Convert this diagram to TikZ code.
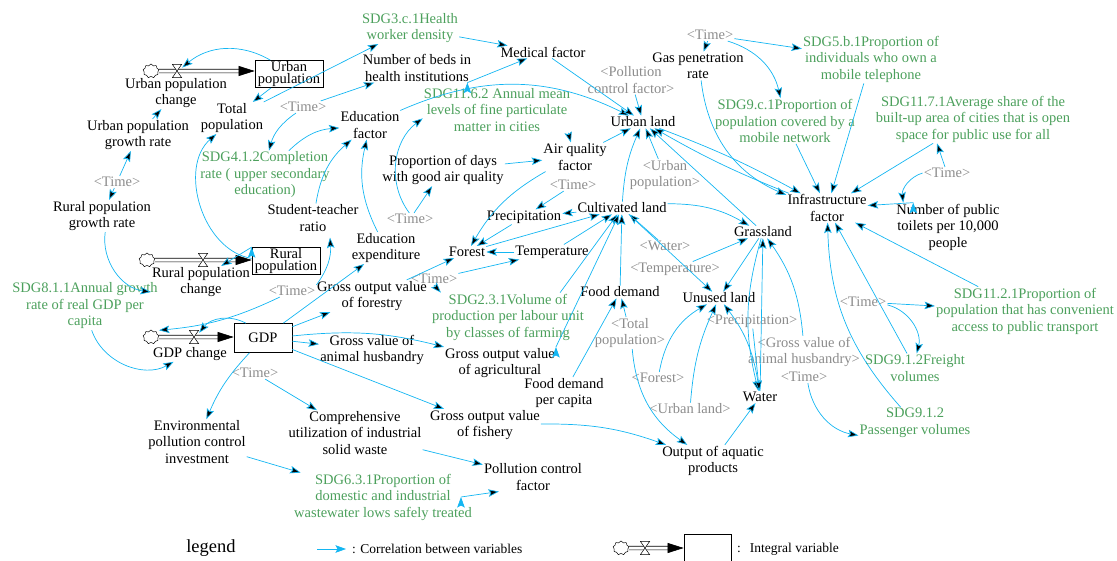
\documentclass[tikz,border=0pt]{standalone}
\usepackage{fontspec}
\setmainfont{Liberation Serif}
\usetikzlibrary{arrows.meta,shapes.symbols}
\definecolor{linkblue}{RGB}{20,182,242}
\definecolor{sdggreen}{RGB}{76,160,92}
\definecolor{shadowgray}{RGB}{140,140,140}
\newcommand{\varfont}{\fontsize{14.5}{16.5}\selectfont}
\newcommand{\stockfont}{\fontsize{14.5}{12.5}\selectfont}
\newcommand{\legfont}{\fontsize{13.5}{15}\selectfont}

\begin{document}
\begin{tikzpicture}[x=1pt, y=-1pt,
    var/.style={align=center, inner sep=1pt, font=\varfont},
    sdg/.style={var, text=sdggreen},
    shadowvar/.style={var, text=shadowgray},
    stock/.style={draw, line width=0.7pt, align=center, inner sep=0pt, font=\stockfont,
                  minimum width=68pt, minimum height=27pt},
    source/.style={cloud, cloud puffs=9, cloud ignores aspect, draw, line width=0.5pt,
                   inner sep=0pt, minimum width=16pt, minimum height=14pt},
    valve/.style={inner sep=0pt, minimum width=10pt, minimum height=14pt,
                  path picture={\draw[fill=white, line width=0.5pt]
                    ([shift={(0.3pt,-0.3pt)}]path picture bounding box.north west) --
                    ([shift={(-0.3pt,-0.3pt)}]path picture bounding box.north east) --
                    ([shift={(0.3pt,0.3pt)}]path picture bounding box.south west) --
                    ([shift={(-0.3pt,0.3pt)}]path picture bounding box.south east) -- cycle;}},
    pipe/.style={double, double distance=3pt, line width=0.6pt},
    inflow/.style={line width=0.6pt, -{Triangle[length=16pt,width=10pt]}},
    link/.style={draw=linkblue, line width=0.7pt, -{Stealth[length=10.5pt,width=7.5pt,inset=2pt]}}]
  \useasboundingbox (0,0) rectangle (1117,560);

  \node[stock] (urbpop) at (289,74) {Urban\\population};
  \node[stock] (ruralpop) at (286,261) {Rural\\population};
  \node[stock, minimum width=58pt, minimum height=29pt] (gdp) at (263,338) {GDP};

  \node[source] (urbcloud) at (151,71) {};
  \coordinate (urbin) at (urbpop.west |- urbcloud);
  \draw[pipe] (urbcloud.east) -- ([xshift=-12pt]urbin);
  \draw[inflow] ([xshift=-16pt]urbin) -- (urbin);
  \node[valve] (urbvalve) at (177,71) {};

  \node[source] (rurcloud) at (147,260) {};
  \coordinate (rurin) at (ruralpop.west |- rurcloud);
  \draw[pipe] (rurcloud.east) -- ([xshift=-12pt]rurin);
  \draw[inflow] ([xshift=-16pt]rurin) -- (rurin);
  \node[valve] (rurvalve) at (203,260) {};

  \node[source] (gdpcloud) at (151,337) {};
  \coordinate (gdpin) at (gdp.west |- gdpcloud);
  \draw[pipe] (gdpcloud.east) -- ([xshift=-12pt]gdpin);
  \draw[inflow] ([xshift=-16pt]gdpin) -- (gdpin);
  \node[valve] (gdpvalve) at (194,337) {};

  \node[var] (urbchg) at (176,93) {Urban population\\change};
  \node[var] (totpop) at (232,118) {Total\\population};
  \node[var] (urbrate) at (138,135) {Urban population\\growth rate};
  \node[shadowvar] (time1) at (117,182) {<Time>};
  \node[var] (rurrate) at (102,216) {Rural population\\growth rate};
  \node[var] (rurchg) at (201,282) {Rural population\\change};
  \node[sdg] (edu41) at (265,175) {SDG4.1.2Completion\\rate ( upper secondary\\education)};
  \node[shadowvar] (time2) at (303,107) {<Time>};
  \node[var] (stratio) at (313,218) {Student-teacher\\ratio};
  \node[var] (eduexp) at (386,248) {Education\\expenditure};
  \node[var] (edufac) at (370,125) {Education\\factor};
  \node[var] (beds) at (417,68) {Number of beds in\\health institutions};
  \node[sdg] (sdg3c) at (410,28) {SDG3.c.1Health\\worker density};
  \node[var] (medfac) at (543,52) {Medical factor};
  \node[sdg] (sdg116) at (497,110) {SDG11.6.2 Annual mean\\levels of fine particulate\\matter in cities};
  \node[var] (days) at (443,170) {Proportion of days\\with good air quality};
  \node[shadowvar] (time3) at (410,219) {<Time>};
  \node[var] (airq) at (575,157) {Air quality\\factor};
  \node[var] (urbland) at (643,122) {Urban land};
  \node[shadowvar] (pcf) at (631,80) {<Pollution\\control factor>};
  \node[shadowvar] (upop) at (665,175) {<Urban\\population>};
  \node[shadowvar] (time4) at (573,185) {<Time>};
  \node[var] (precip) at (524,217) {Precipitation};
  \node[var] (cland) at (622,208) {Cultivated land};
  \node[var] (forest) at (467,252) {Forest};
  \node[var] (temp) at (552,252) {Temperature};
  \node[shadowvar] (water1) at (665,246) {<Water>};
  \node[shadowvar] (temp2) at (675,269) {<Temperature>};
  \node[var] (grass) at (763,232) {Grassland};
  \node[var] (unused) at (719,298) {Unused land};
  \node[var] (fdemand) at (620,292) {Food demand};
  \node[shadowvar] (totpop2) at (630,333) {<Total\\population>};
  \node[var] (fdpc) at (564,393) {Food demand\\per capita};
  \node[shadowvar] (forest2) at (658,378) {<Forest>};
  \node[shadowvar] (uland2) at (690,409) {<Urban land>};
  \node[shadowvar] (precip2) at (752,321) {<Precipitation>};
  \node[shadowvar] (gvah2) at (804,352) {<Gross value of\\animal husbandry>};
  \node[shadowvar] (time5) at (804,377) {<Time>};
  \node[var] (water) at (760,397) {Water};
  \node[var] (aquatic) at (713,461) {Output of aquatic\\products};
  \node[var] (gas) at (698,66) {Gas penetration\\rate};
  \node[shadowvar] (time6) at (710,35) {<Time>};
  \node[sdg] (sdg5b) at (871,59) {SDG5.b.1Proportion of\\individuals who own a\\mobile telephone};
  \node[sdg] (sdg9c) at (785,121) {SDG9.c.1Proportion of\\population covered by a\\mobile network};
  \node[sdg] (sdg117) at (973,119) {SDG11.7.1Average share of the\\built-up area of cities that is open\\space for public use for all};
  \node[shadowvar] (time7) at (947,173) {<Time>};
  \node[var] (infra) at (827,208) {Infrastructure\\factor};
  \node[var] (toilets) at (948,227) {Number of public\\toilets per 10,000\\people};
  \node[sdg] (sdg1121) at (1025,311) {SDG11.2.1Proportion of\\population that has convenient\\access to public transport};
  \node[shadowvar] (time8) at (863,302) {<Time>};
  \node[sdg] (freight) at (915,368) {SDG9.1.2Freight\\volumes};
  \node[sdg] (passenger) at (915,423) {SDG9.1.2\\Passenger volumes};
  \node[var] (gdpchg) at (190,354) {GDP change};
  \node[sdg] (sdg811) at (85,306) {SDG8.1.1Annual growth\\rate of real GDP per\\capita};
  \node[shadowvar] (time9) at (292,291) {<Time>};
  \node[var] (forestry) at (372,296) {Gross output value\\of forestry};
  \node[var] (gvah) at (372,350) {Gross value of\\animal husbandry};
  \node[var] (agri) at (500,363) {Gross output value\\of agricultural};
  \node[sdg] (sdg231) at (508,317) {SDG2.3.1Volume of\\production per labour unit\\by classes of farming};
  \node[shadowvar] (time10) at (434,279) {<Time>};
  \node[shadowvar] (time11) at (255,373) {<Time>};
  \node[var] (envinv) at (197,442) {Environmental\\pollution control\\investment};
  \node[var] (compr) at (355,433) {Comprehensive\\utilization of industrial\\solid waste};
  \node[var] (fishery) at (485,425) {Gross output value\\of fishery};
  \node[var] (pollfac) at (533,477) {Pollution control\\factor};
  \node[sdg] (sdg631) at (383,497) {SDG6.3.1Proportion of\\domestic and industrial\\wastewater lows safely treated};

  \draw[link] (urbpop) edge[bend right=35] (urbvalve)
              (urbpop) edge (totpop)
              (urbrate) edge (urbchg)
              (time1) edge (urbrate)
              (time1) edge (rurrate)
              (rurrate) edge[bend right=45] (rurchg)
              (ruralpop.north west) edge ([xshift=-30pt]rurchg.north east)
              (ruralpop) edge[bend left=65] (totpop)
              (totpop) edge (sdg3c);
  \draw[link] (time2) edge (beds)
              (time2) edge[bend right=20] (edu41)
              (edu41) edge[bend left=20] (edufac)
              (stratio) edge[bend left=20] (edufac)
              (eduexp) edge[bend left=20] (edufac)
              (time9.north east) edge[bend right=20] ([xshift=17pt,yshift=-5pt]stratio.south)
              (edufac) edge[bend left=25] (urbland)
              (sdg3c) edge (medfac)
              ([xshift=-5pt]beds.south east) edge ([xshift=28pt]medfac.south west)
              (medfac) edge (urbland)
              (pcf) edge (urbland);
  \draw[link] (time3) edge (days)
              (time3) edge[bend left=45] (sdg116)
              (days) edge (airq)
              ([xshift=-3pt]sdg116.south east) edge (airq)
              (airq) edge (urbland)
              (airq) edge[bend right=15] (forest)
              (time4) edge (precip)
              (cland) edge (precip)
              (precip) edge (forest)
              (temp) edge (forest)
              (forestry) edge (forest)
              (forest) edge (cland)
              (temp) edge (cland)
              (time10) edge (temp)
              (time10.south) edge ([xshift=10pt]sdg231.north west)
              ([xshift=-25pt]sdg231.north east) edge (cland)
              (agri.north east) edge (cland)
              (fdemand) edge (cland)
              (fdpc) edge (fdemand)
              (totpop2) edge (fdemand)
              (water1) edge (cland);
  \draw[link] (cland) edge[bend left=10] (urbland)
              (upop) edge (urbland)
              (grass) edge (urbland)
              (infra) edge[bend left=4] (urbland)
              (urbland) edge[bend left=4] (infra)
              (cland) edge[bend left=15] (grass)
              (cland) edge (unused)
              (temp2) edge (grass)
              (grass) edge (unused)
              (grass) edge[bend right=15] (water)
              (water) edge (grass)
              (water) edge[bend right=15] (unused)
              (precip2) edge (water)
              (forest2) edge[bend left=25] (unused)
              (uland2) edge[bend left=10] (unused)
              (gvah2) edge[bend right=15] (grass)
              (aquatic) edge (water)
              (fishery) edge[bend left=10] (aquatic)
              (totpop2) edge[bend right=25] (aquatic);
  \draw[link] (time6) edge (gas)
              (time6) edge (sdg5b)
              (time6) edge[bend left=30] (sdg9c)
              (gas) edge[bend right=30] (infra)
              (sdg9c) edge (infra)
              (sdg5b) edge (infra)
              (sdg117) edge (infra)
              (time7) edge ([xshift=-36pt]sdg117.south)
              (time7.west) edge[bend right=40] ([xshift=8pt]toilets.north west)
              ([xshift=18pt]toilets.north west) edge (infra)
              (sdg1121) edge (infra)
              (freight) edge (infra)
              (passenger) edge[bend left=20] (infra)
              (time8) edge (sdg1121)
              (time8) edge[bend left=45] (freight)
              (time5) edge[bend right=35] (passenger);
  \draw[link] (gdp) edge[bend right=40] (gdpvalve)
              (sdg811) edge[bend right=50] (gdpchg)
              (time9) edge[bend left=10] (sdg811.south east)
              (gdp) edge (eduexp)
              (gdp) edge (forestry)
              (gdp) edge (gvah)
              (gdp) edge[bend left=10] (agri)
              (gdp) edge (fishery)
              (gdp) edge[bend right=10] (envinv)
              (time11) edge (compr)
              (envinv) edge (sdg631)
              (compr) edge (pollfac)
              ([xshift=-12pt]sdg631.east) edge ([xshift=16pt]pollfac.south west);

  \node[font=\fontsize{18.5}{20}\selectfont] (legendtitle) at (211,548) {legend};
  \coordinate (legfrom) at (317,549);
  \coordinate (legto) at (346,549);
  \draw[link] (legfrom) -- (legto);
  \node[anchor=west, inner sep=0pt, font=\legfont] (legcorr) at (352,549) {: Correlation between variables};
  \node[stock, minimum width=47pt, minimum height=27pt] (legstock) at (707.5,547.5) {};
  \node[source] (legcloud) at (621,548) {};
  \coordinate (legin) at (legstock.west |- legcloud);
  \draw[pipe] (legcloud.east) -- ([xshift=-12pt]legin);
  \draw[inflow] ([xshift=-16pt]legin) -- (legin);
  \node[valve] (legvalve) at (645,548) {};
  \node[anchor=west, inner sep=0pt, font=\legfont] (legint) at (737,549) {:\hspace{9pt}Integral variable};
\end{tikzpicture}
\end{document}
